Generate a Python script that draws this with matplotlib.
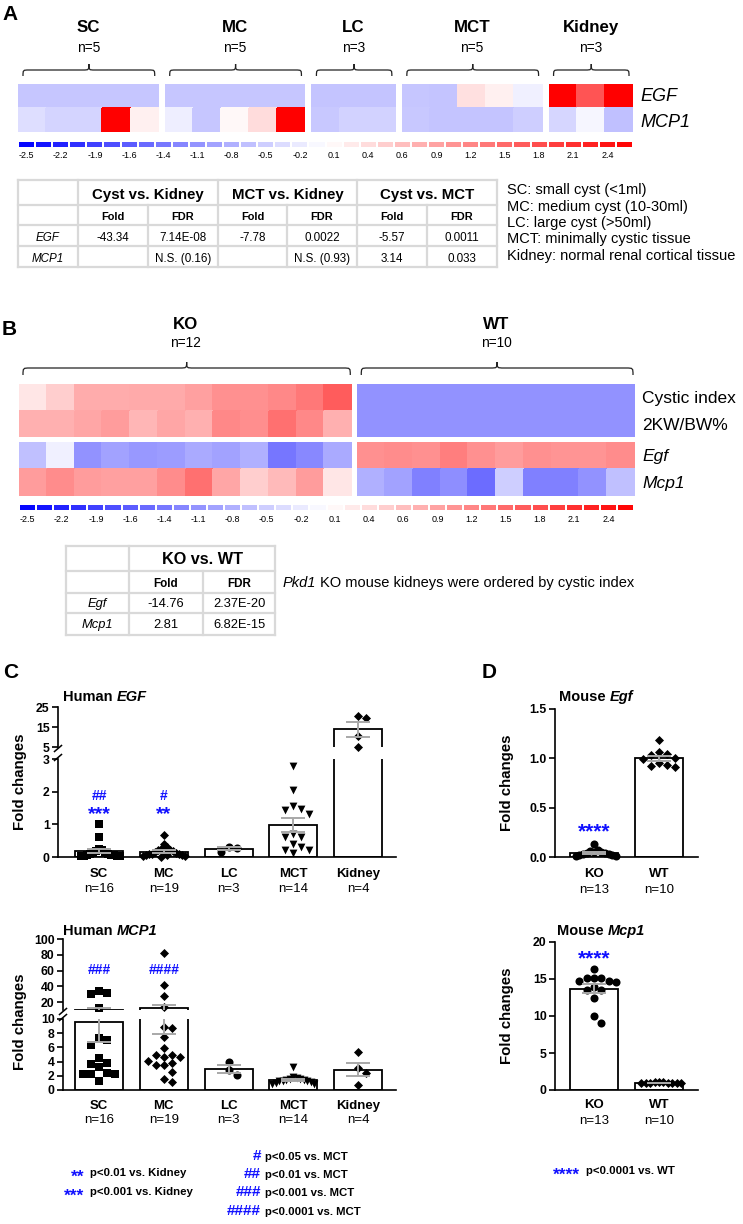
import numpy as np
import matplotlib
matplotlib.use('Agg')
import matplotlib.pyplot as plt
import matplotlib.transforms as mtransforms
from matplotlib.colors import LinearSegmentedColormap, Normalize
from matplotlib.path import Path
from matplotlib.patches import PathPatch
from matplotlib import font_manager as fm

# ============================ DATA ============================
cbar_tick_labels = ['-2.5', '-2.2', '-1.9', '-1.6', '-1.4', '-1.1', '-0.8', '-0.5', '-0.2',
                    '0.1', '0.4', '0.6', '0.9', '1.2', '1.5', '1.8', '2.1', '2.4']

# Panel A heatmap (row z-scores)
a_groups = ['SC', 'MC', 'LC', 'MCT', 'Kidney']
a_group_n = ['n=5', 'n=5', 'n=3', 'n=5', 'n=3']
a_group_size = [5, 5, 3, 5, 3]
a_genes = ['EGF', 'MCP1']
a_egf_z = [-0.58, -0.58, -0.58, -0.58, -0.58,
           -0.58, -0.58, -0.58, -0.58, -0.58,
           -0.60, -0.60, -0.60,
           -0.58, -0.60, 0.32, 0.15, -0.15,
           2.60, 1.73, 2.60]
a_mcp1_z = [-0.33, -0.44, -0.44, 2.60, 0.15,
            -0.18, -0.58, 0.07, 0.35, 2.60,
            -0.55, -0.45, -0.45,
            -0.55, -0.60, -0.60, -0.60, -0.50,
            -0.42, -0.10, -0.64]

# Panel A table
a_table_comparisons = ['Cyst vs. Kidney', 'MCT vs. Kidney', 'Cyst vs. MCT']
a_table_sub = ['Fold', 'FDR', 'Fold', 'FDR', 'Fold', 'FDR']
a_table_egf = ['-43.34', '7.14E-08', '-7.78', '0.0022', '-5.57', '0.0011']
a_table_mcp1 = ['', 'N.S. (0.16)', '', 'N.S. (0.93)', '3.14', '0.033']
a_notes = ['SC: small cyst (<1ml)', 'MC: medium cyst (10-30ml)', 'LC: large cyst (>50ml)',
           'MCT: minimally cystic tissue', 'Kidney: normal renal cortical tissue']

# Panel B heatmap (row z-scores), 12 KO then 10 WT
b_groups = ['KO', 'WT']
b_group_n = ['n=12', 'n=10']
b_group_size = [12, 10]
b_rows = ['Cystic index', '2KW/BW%', 'Egf', 'Mcp1']
b_cystic_z = [0.25, 0.50, 0.85, 0.85, 0.87, 0.87, 0.97, 1.12, 1.12, 1.20, 1.37, 1.65,
              -1.10, -1.10, -1.10, -1.10, -1.10, -1.10, -1.10, -1.10, -1.10, -1.10]
b_kwbw_z = [0.80, 0.80, 0.90, 1.00, 0.75, 0.90, 0.80, 1.20, 1.15, 1.45, 1.20, 0.80,
            -1.10, -1.10, -1.10, -1.10, -1.10, -1.10, -1.10, -1.10, -1.10, -1.10]
b_egf_z = [-0.65, -0.15, -1.10, -0.95, -1.05, -1.00, -0.87, -0.95, -0.80, -1.40, -1.20, -0.87,
           1.12, 1.17, 1.12, 1.30, 1.12, 1.00, 1.12, 1.08, 1.08, 1.17]
b_mcp1_z = [1.00, 1.17, 1.00, 0.97, 0.97, 1.17, 1.45, 0.90, 0.50, 0.70, 1.00, 0.25,
            -0.80, -0.95, -1.30, -1.15, -1.50, -0.50, -1.30, -1.30, -1.10, -0.65]
b_table_header = 'KO vs. WT'
b_table_sub = ['Fold', 'FDR']
b_table_genes = ['Egf', 'Mcp1']
b_table_egf = ['-14.76', '2.37E-20']
b_table_mcp1 = ['2.81', '6.82E-15']

# Panel C (human qPCR fold changes)
c_groups = ['SC', 'MC', 'LC', 'MCT', 'Kidney']
c_group_n = ['n=16', 'n=19', 'n=3', 'n=14', 'n=4']
c_markers = ['s', 'D', 'o', 'v', 'D']
c_egf_sc = [1.02, 0.60, 0.25, 0.20, 0.18, 0.15, 0.12, 0.10, 0.08, 0.07, 0.06, 0.05, 0.04, 0.03, 0.02, 0.02]
c_egf_mc = [0.68, 0.40, 0.30, 0.25, 0.22, 0.20, 0.18, 0.15, 0.14, 0.12, 0.10, 0.10, 0.08, 0.07,
            0.06, 0.05, 0.04, 0.02, 0.00]
c_egf_lc = [0.15, 0.32, 0.29]
c_egf_mct = [2.78, 2.04, 1.56, 1.33, 1.43, 1.46, 0.69, 0.61, 0.61, 0.39, 0.31, 0.22, 0.22, 0.13]
c_egf_kidney = [19.5, 20.5, 10.5, 5.0]
c_egf_star = ['***', '**', '', '', '']
c_egf_hash = ['##', '#', '', '', '']

c_mcp1_sc = [34.0, 30.0, 31.5, 12.5, 7.0, 7.3, 6.3, 4.5, 3.8, 3.7, 3.2, 2.2, 2.2, 2.2, 2.4, 1.2]
c_mcp1_mc = [82.0, 41.6, 27.6, 13.6, 8.7, 8.9, 7.4, 5.9, 4.1, 4.6, 4.9, 4.6, 4.9, 3.5, 3.8, 3.5,
             2.5, 1.6, 1.1]
c_mcp1_lc = [3.9, 2.1, 2.8]
c_mcp1_mct = [3.2, 1.8, 1.7, 1.6, 1.5, 1.4, 1.4, 1.3, 1.2, 1.2, 1.1, 1.0, 0.9, 0.8]
c_mcp1_kidney = [5.3, 3.1, 2.4, 0.7]
c_mcp1_hash = ['###', '####', '', '', '']

# Panel D (mouse qPCR fold changes)
d_groups = ['KO', 'WT']
d_group_n = ['n=13', 'n=10']
d_markers = ['o', 'D']
d_egf_ko = [0.13, 0.07, 0.06, 0.05, 0.05, 0.04, 0.04, 0.03, 0.03, 0.02, 0.02, 0.01, 0.01]
d_egf_wt = [1.19, 1.06, 0.99, 1.00, 1.04, 1.03, 0.92, 0.93, 0.95, 0.91]
d_mcp1_ko = [16.3, 15.2, 15.2, 15.2, 14.7, 14.6, 14.7, 13.9, 13.5, 13.5, 12.4, 10.0, 9.0]
d_mcp1_wt = [1.10, 1.05, 1.00, 1.00, 0.98, 0.95, 0.90, 1.02, 0.97, 0.93]
d_star = ['****', '']

# legends
leg_kidney = [('**', 'p<0.01 vs. Kidney'), ('***', 'p<0.001 vs. Kidney')]
leg_mct = [('#', 'p<0.05 vs. MCT'), ('##', 'p<0.01 vs. MCT'),
           ('###', 'p<0.001 vs. MCT'), ('####', 'p<0.0001 vs. MCT')]
leg_wt = [('****', 'p<0.0001 vs. WT')]

# ============================ SETUP ============================
W, H = 743, 1224
fig = plt.figure(figsize=(W / 100, H / 100), dpi=100)
fig.patch.set_facecolor('white')

avail = {f.name for f in fm.fontManager.ttflist}
SANS = 'Liberation Sans' if 'Liberation Sans' in avail else 'DejaVu Sans'
HAS_NARROW = 'Liberation Sans Narrow' in avail
NARROW = 'Liberation Sans Narrow' if HAS_NARROW else SANS
NK = 1.0 if HAS_NARROW else 0.9
LEGSZ = 9 if HAS_NARROW else 8.2
plt.rcParams['font.family'] = [SANS, 'DejaVu Sans']

BLUE = '#1010ff'
GRID = '#d9d9d9'

ov = fig.add_axes([0, 0, 1, 1])
ov.set_xlim(0, W)
ov.set_ylim(H, 0)
ov.axis('off')


def AX(x0, y0, x1, y1):
    return fig.add_axes([x0 / W, 1 - y1 / H, (x1 - x0) / W, (y1 - y0) / H])


def txt(x, y, s, size, ha='center', va='baseline', family=None, weight='normal',
        style='normal', color='black', rot=0, transform=None):
    return ov.text(x, y, s, fontsize=size, ha=ha, va=va, family=family or SANS,
                   fontweight=weight, fontstyle=style, color=color, rotation=rot,
                   transform=transform or ov.transData, clip_on=False)


def txt_pair(x, y, s1, s2, size, weight='bold', style2='italic', gap=2.8, family=None):
    t1 = txt(x, y, s1, size, ha='left', weight=weight, family=family)
    ov.annotate(s2, xy=(1, 0), xycoords=t1, xytext=(gap, 0), textcoords='offset points',
                ha='left', va='bottom', fontsize=size, fontweight=weight, fontstyle=style2,
                family=family or SANS)


cmap = LinearSegmentedColormap.from_list('bwr_hm', [(0.0, 0.0, 1.0), (1, 1, 1), (1.0, 0.0, 0.0)])
VMAX = 2.6
norm = Normalize(-VMAX, VMAX)
NLEV = 36


def heat_block(x0, x1, y0, y1, rows):
    ax = AX(x0, y0, x1, y1)
    data = np.array(rows, float)
    ax.pcolormesh(data, cmap=cmap, norm=norm, edgecolors='face', linewidth=0.3)
    ax.set_xlim(0, data.shape[1])
    ax.set_ylim(data.shape[0], 0)
    ax.axis('off')
    return ax


def colorbar_strip(x0, x1, y0, y1, pad):
    ax = AX(x0, y0, x1, y1)
    edges = np.linspace(-VMAX, VMAX, NLEV + 1)
    centers = (edges[:-1] + edges[1:]) / 2
    ax.pcolormesh(np.arange(NLEV + 1), [0, 1], centers[None, :], cmap=cmap, norm=norm,
                  edgecolors='white', linewidth=1.4)
    ax.set_xlim(0, NLEV)
    ax.set_ylim(0, 1)
    ax.set_xticks(np.arange(0, NLEV, 2)[:len(cbar_tick_labels)] + 0.5)
    ax.set_xticklabels(cbar_tick_labels, fontsize=7.2 * NK, family=NARROW)
    ax.tick_params(length=0, pad=pad)
    ax.set_yticks([])
    for s in ax.spines.values():
        s.set_visible(False)


def brace(x0, x1, ytip, yline, yend, r=6):
    xc = (x0 + x1) / 2
    verts = [(x0, yend), (x0, yline), (x0, yline), (x0 + r, yline),
             (xc - r, yline),
             (xc, yline), (xc, yline), (xc, ytip),
             (xc, yline), (xc, yline), (xc + r, yline),
             (x1 - r, yline),
             (x1, yline), (x1, yline), (x1, yend)]
    codes = [Path.MOVETO, Path.CURVE4, Path.CURVE4, Path.CURVE4, Path.LINETO,
             Path.CURVE4, Path.CURVE4, Path.CURVE4,
             Path.CURVE4, Path.CURVE4, Path.CURVE4, Path.LINETO,
             Path.CURVE4, Path.CURVE4, Path.CURVE4]
    ov.add_patch(PathPatch(Path(verts, codes), fill=False, lw=0.9, ec='#222222'))


def table_grid(cols, rows, head_cols):
    for y in rows:
        ov.plot([cols[0], cols[-1]], [y, y], color=GRID, lw=1.6, solid_capstyle='projecting')
    for i, x in enumerate(cols):
        ytop = rows[0] if i in head_cols else rows[1]
        ov.plot([x, x], [ytop, rows[-1]], color=GRID, lw=1.6, solid_capstyle='projecting')


# ============================ PANEL A ============================
txt(2, 20, 'A', 15, ha='left', weight='bold')
cell_w = (633 - 18 - 4 * 6) / sum(a_group_size)
x = 18.0
idx = 0
for g, n, nl in zip(a_groups, a_group_size, a_group_n):
    x1 = x + n * cell_w
    heat_block(x, x1, 84, 132, [a_egf_z[idx:idx + n], a_mcp1_z[idx:idx + n]])
    brace(x + 5, x1 - 4, 64, 70, 76)
    txt((x + x1) / 2, 32, g, 13.5 * NK, family=NARROW, weight='bold')
    txt((x + x1) / 2, 52, nl, 11 * NK, family=NARROW)
    idx += n
    x = x1 + 6
for gname, yb in zip(a_genes, [101, 127]):
    txt(640, yb, gname, 13, ha='left', style='italic')
colorbar_strip(18, 633, 141, 148, pad=2.5)

a_cols = [18, 78, 148, 218, 287, 357, 427, 497]
a_rowsy = [180, 205, 225, 246, 267]
table_grid(a_cols, a_rowsy, [0, 1, 3, 5, 7])
for k, comp in enumerate(a_table_comparisons):
    txt((a_cols[1 + 2 * k] + a_cols[3 + 2 * k]) / 2, 199, comp, 12 * NK, family=NARROW, weight='bold')
for j in range(6):
    xc = (a_cols[1 + j] + a_cols[2 + j]) / 2
    txt(xc, 220, a_table_sub[j], 8.8 * NK, family=NARROW, weight='bold')
    txt(xc, 241, a_table_egf[j], 9.3 * NK, family=NARROW)
    txt(xc, 262, a_table_mcp1[j], 9.3 * NK, family=NARROW)
for gname, yb in zip(a_genes, [241, 262]):
    txt((a_cols[0] + a_cols[1]) / 2, yb, gname, 9.3 * NK, family=NARROW, style='italic')
for k, note in enumerate(a_notes):
    txt(507, 194 + 16.5 * k, note, 10.5, ha='left')

# ============================ PANEL B ============================
txt(2, 335, 'B', 15, ha='left', weight='bold')
cell_wb = (635 - 19 - 5) / sum(b_group_size)
x = 19.0
idx = 0
for g, n, nl in zip(b_groups, b_group_size, b_group_n):
    x1 = x + n * cell_wb
    heat_block(x, x1, 384, 437, [b_cystic_z[idx:idx + n], b_kwbw_z[idx:idx + n]])
    heat_block(x, x1, 442, 496, [b_egf_z[idx:idx + n], b_mcp1_z[idx:idx + n]])
    brace(x + 4, x1 - 2, 362, 368, 375, r=7)
    txt((x + x1) / 2, 329, g, 13.5 * NK, family=NARROW, weight='bold')
    txt((x + x1) / 2, 347, nl, 11 * NK, family=NARROW)
    idx += n
    x = x1 + 5
for rname, yb, st in zip(b_rows, [403.5, 430, 461, 488], ['normal', 'normal', 'italic', 'italic']):
    txt(642, yb, rname, 12.5, ha='left', style=st)
colorbar_strip(19, 634, 504, 511, pad=3)

b_cols = [66, 129, 203, 275]
b_rowsy = [546, 571, 593, 613, 635]
table_grid(b_cols, b_rowsy, [0, 1, 3])
txt((b_cols[1] + b_cols[3]) / 2, 564, b_table_header, 13 * NK, family=NARROW, weight='bold')
for j in range(2):
    xc = (b_cols[1 + j] + b_cols[2 + j]) / 2
    txt(xc, 587, b_table_sub[j], 9.3 * NK, family=NARROW, weight='bold')
    txt(xc, 607, b_table_egf[j], 9.3)
    txt(xc, 628, b_table_mcp1[j], 9.3)
for gname, yb in zip(b_table_genes, [607, 628]):
    txt((b_cols[0] + b_cols[1]) / 2, yb, gname, 9.3, style='italic')
t_pkd = txt(283, 587, 'Pkd1', 10.5, ha='left', style='italic')
ov.annotate('KO mouse kidneys were ordered by cystic index', xy=(1, 0), xycoords=t_pkd,
            xytext=(2.8, 0), textcoords='offset points', ha='left', va='bottom', fontsize=10.5,
            family=SANS)


# ============================ DOT + BAR PLOTS ============================
def make_axes(x0, x1, segs, xlim, fmt):
    axs = []
    for k, (yt, yb, lim, ticks) in enumerate(segs):
        ax = AX(x0, yt, x1, yb)
        ax.set_xlim(*xlim)
        ax.set_ylim(*lim)
        ax.set_yticks(ticks)
        ax.set_yticklabels([fmt(t) for t in ticks], fontsize=8.8, fontweight='bold')
        ax.tick_params(axis='y', length=4, width=1.2, pad=2, direction='out')
        ax.set_xticks([])
        for s in ('top', 'right'):
            ax.spines[s].set_visible(False)
        if k < len(segs) - 1:
            ax.spines['bottom'].set_visible(False)
        for s in ('left', 'bottom'):
            ax.spines[s].set_linewidth(1.2)
        ax.patch.set_visible(False)
        axs.append(ax)
    for k in range(len(segs) - 1):
        for yy in (segs[k][1] + 1.5, segs[k + 1][0] - 1.5):
            ov.plot([x0 - 3.5, x0 + 3.5], [yy + 3, yy - 3], color='black', lw=1.1)
    return axs


def choose_ax(axs, v):
    for k, ax in enumerate(axs):
        if v >= ax.get_ylim()[0] - 1e-9:
            return k
    return len(axs) - 1


def swarm_offsets(ypix, d, maxhalf):
    n = len(ypix)
    offs = np.zeros(n)
    placed = []
    for i in np.argsort(-np.asarray(ypix)):
        cand = 0.0
        for k in range(80):
            step = (k + 1) // 2
            cand = 0.0 if k == 0 else step * d * (1 if k % 2 == 1 else -1)
            if all((cand - px) ** 2 + (ypix[i] - py) ** 2 >= 0.9 * d * d for px, py in placed):
                break
        offs[i] = cand
        placed.append((cand, ypix[i]))
    m = np.max(np.abs(offs)) if n else 0
    if m > maxhalf:
        offs = offs * maxhalf / m
    return offs


MSIZE = {'s': 5.2, 'D': 4.6, 'o': 5.8, 'v': 5.6}


def dot_bar(axs, values_list, markers, bw, d_px=8.0, halfw=21):
    pos = np.arange(len(values_list))
    means = np.array([np.mean(v) for v in values_list])
    sems = np.array([np.std(v, ddof=1) / np.sqrt(len(v)) for v in values_list])
    for ax in axs:
        ax.bar(pos, means, width=bw, color='white', edgecolor='black', linewidth=1.3, zorder=1)
        ax.errorbar(pos, means, yerr=sems, fmt='none', ecolor='#a8a8a8', elinewidth=1.4,
                    capsize=8.5, capthick=1.4, zorder=4)
    ppu = axs[-1].transData.transform((1, 0))[0] - axs[-1].transData.transform((0, 0))[0]
    for i, vals in enumerate(values_list):
        vals = np.asarray(vals, float)
        which = np.array([choose_ax(axs, v) for v in vals])
        ypix = np.array([axs[w].transData.transform((0, v))[1] for w, v in zip(which, vals)])
        offs = swarm_offsets(ypix, d_px, halfw) / ppu
        for w in sorted(set(which)):
            m = which == w
            axs[w].scatter(pos[i] + offs[m], vals[m], marker=markers[i], s=MSIZE[markers[i]] ** 2,
                           color='black', linewidths=0, zorder=3, clip_on=False)
    return pos


def xlabels(ax, pos, names, ns, y1, y2):
    tr = mtransforms.blended_transform_factory(ax.transData, ov.transData)
    for p, nm, nn in zip(pos, names, ns):
        txt(p, y1, nm, 9.5, weight='bold', transform=tr)
        txt(p, y2, nn, 9.5, transform=tr)


def marks(ax, pos, labels, yb, size, color=BLUE):
    tr = mtransforms.blended_transform_factory(ax.transData, ov.transData)
    for p, s in zip(pos, labels):
        if s:
            txt(p, yb, s, size, weight='bold', color=color, transform=tr)


def ifmt(t):
    return '%d' % t


BWC = 48 / 64.75
# ---- C : Human EGF ----
txt(3, 678, 'C', 15, ha='left', weight='bold')
axs_e = make_axes(58, 396, [(707, 747, (5, 25), [5, 15, 25]), (759, 857, (0, 3), [0, 1, 2, 3])],
                  ((58 - 99) / 64.75, (396 - 99) / 64.75), ifmt)
pos = dot_bar(axs_e, [c_egf_sc, c_egf_mc, c_egf_lc, c_egf_mct, c_egf_kidney], c_markers, BWC)
txt_pair(63, 701, 'Human', 'EGF', 10.5)
txt(20, 782, 'Fold changes', 10.8, va='center', weight='bold', rot=90)
xlabels(axs_e[-1], pos, c_groups, c_group_n, 877, 892)
marks(axs_e[-1], pos, c_egf_hash, 800, 10)
marks(axs_e[-1], pos, c_egf_star, 819, 14)

# ---- C : Human MCP1 ----
axs_m = make_axes(63, 396, [(939, 1010, (10, 100), [20, 40, 60, 80, 100]),
                            (1019, 1090, (0, 10), [0, 2, 4, 6, 8, 10])],
                  ((63 - 99) / 64.75, (396 - 99) / 64.75), ifmt)
pos = dot_bar(axs_m, [c_mcp1_sc, c_mcp1_mc, c_mcp1_lc, c_mcp1_mct, c_mcp1_kidney], c_markers, BWC)
txt_pair(63, 935, 'Human', 'MCP1', 10.5)
txt(20, 1022, 'Fold changes', 10.8, va='center', weight='bold', rot=90)
xlabels(axs_m[-1], pos, c_groups, c_group_n, 1109, 1123)
marks(axs_m[-1], pos, c_mcp1_hash, 974, 10)

# ---- D : Mouse Egf ----
txt(482, 678, 'D', 15, ha='left', weight='bold')
BWD = 48 / 65
axd1 = make_axes(555, 698, [(709, 857, (0, 1.5), [0, 0.5, 1.0, 1.5])], (-0.6, 1.6),
                 lambda t: '%.1f' % t)
pos = dot_bar(axd1, [d_egf_ko, d_egf_wt], d_markers, BWD, halfw=22)
txt_pair(559, 701, 'Mouse', 'Egf', 10.5)
txt(507, 783, 'Fold changes', 10.8, va='center', weight='bold', rot=90)
xlabels(axd1[-1], pos, d_groups, d_group_n, 877, 893)
marks(axd1[-1], pos, d_star, 837, 15)

# ---- D : Mouse Mcp1 ----
axd2 = make_axes(555, 698, [(942, 1090, (0, 20), [0, 5, 10, 15, 20])], (-0.6, 1.6), ifmt)
pos = dot_bar(axd2, [d_mcp1_ko, d_mcp1_wt], d_markers, BWD, halfw=22)
txt_pair(557, 935, 'Mouse', 'Mcp1', 10.5)
txt(507, 1016, 'Fold changes', 10.8, va='center', weight='bold', rot=90)
xlabels(axd2[-1], pos, d_groups, d_group_n, 1108, 1124)
marks(axd2[-1], pos, d_star, 964, 15)

# ============================ LEGENDS ============================
for (sym, lab), yb in zip(leg_kidney, [1176, 1195]):
    txt(84, yb + 5.5, sym, 12.5, ha='right', weight='bold', color=BLUE)
    txt(90, yb, lab, LEGSZ, ha='left', weight='bold', family=NARROW)
for (sym, lab), yb in zip(leg_mct, [1160, 1178, 1196, 1215]):
    txt(261, yb, sym, 11, ha='right', weight='bold', color=BLUE)
    txt(265, yb, lab, LEGSZ, ha='left', weight='bold', family=NARROW)
for (sym, lab), yb in zip(leg_wt, [1174]):
    txt(580, yb + 5.5, sym, 12.5, ha='right', weight='bold', color=BLUE)
    txt(586, yb, lab, LEGSZ, ha='left', weight='bold', family=NARROW)

fig.savefig('out.png', dpi=100, facecolor='white')
